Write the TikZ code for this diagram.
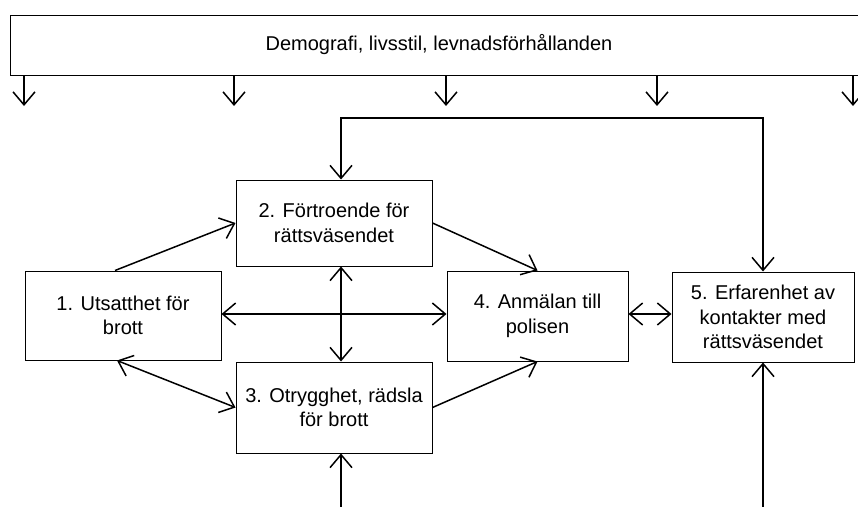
\documentclass[tikz,border=0pt]{standalone}
\usepackage{fontspec}
\setmainfont{Liberation Sans}
\usetikzlibrary{arrows.meta}
\begin{document}
\begin{tikzpicture}[x=1pt,y=-1pt,
  box/.style={draw=black, line width=1pt, align=center, inner sep=0pt,
    font=\fontsize{20}{24.5}\selectfont},
  conn/.style={line width=1.5pt, -{Straight Barb[length=13pt,width=22pt]}},
  bconn/.style={line width=1.5pt, {Straight Barb[length=13pt,width=22pt]}-{Straight Barb[length=13pt,width=22pt]}}]
\useasboundingbox (0,0) rectangle (858,506);
\clip (0,0) rectangle (858,506);
% top box
\node[box, minimum width=858pt, minimum height=60pt] (top) at (439,45) {Demografi, livsstil, levnadsförhållanden};
% boxes
\node[box, minimum width=196pt, minimum height=89pt] (b1) at (123,315.5) {1. Utsatthet för\\brott};
\node[box, minimum width=196pt, minimum height=86pt] (b2) at (334,223) {2. Förtroende för\\rättsväsendet};
\node[box, minimum width=196pt, minimum height=91pt] (b3) at (334,407.5) {3. Otrygghet, rädsla\\för brott};
\node[box, minimum width=181pt, minimum height=90pt] (b4) at (537.5,316) {4. Anmälan till\\polisen};
\node[box, minimum width=182pt, minimum height=90pt] (b5) at (763,317) {5. Erfarenhet av\\kontakter med\\rättsväsendet};
% coordinates
\coordinate (t1) at (24,106);
\coordinate (t2) at (234,106);
\coordinate (t3) at (446,106);
\coordinate (t4) at (657,106);
\coordinate (t5) at (853,106);
\coordinate (v) at (341,0);
\coordinate (h) at (0,314);
\coordinate (fb) at (550,118);
\coordinate (e1) at (341,510);
\coordinate (e2) at (763,510);
% arrows from top box
\foreach \c in {t1,t2,t3,t4,t5} \draw[conn] (top.south -| \c) -- (\c);
% connectors
\draw[conn] ([xshift=-8pt]b1.north) -- (b2.west);
\draw[bconn] (b1.east |- h) -- (b4.west |- h);
\draw[bconn] (b2.south -| v) -- (b3.north -| v);
\draw[bconn] ([xshift=-6pt]b1.south) -- (b3.west);
\draw[conn] (b2.east) -- (b4.north);
\draw[conn] (b3.east) -- (b4.south);
\draw[bconn] (b4.east |- h) -- (b5.west |- h);
\draw[bconn] (b2.north -| v) |- (fb) -| (b5.north);
\draw[conn] (e1) -- (b3.south -| v);
\draw[conn] (e2) -- (b5.south);
\end{tikzpicture}
\end{document}
